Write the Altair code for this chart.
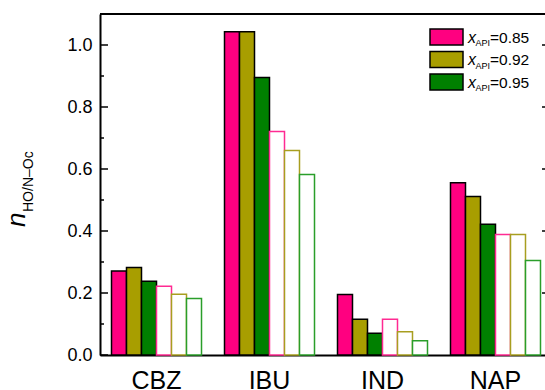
import altair as alt
import pandas as pd

# ---------------- data ----------------
apis = ["CBZ", "IBU", "IND", "NAP"]
series_keys = ["s85", "s92", "s95", "o85", "o92", "o95"]

filled_085 = [0.271, 1.043, 0.195, 0.556]
filled_092 = [0.282, 1.043, 0.115, 0.511]
filled_095 = [0.238, 0.895, 0.070, 0.422]
open_085 = [0.222, 0.721, 0.115, 0.389]
open_092 = [0.196, 0.660, 0.075, 0.389]
open_095 = [0.182, 0.582, 0.046, 0.305]

fill_colors = ["#FF0080", "#A89E00", "#008000", "#FFFFFF", "#FFFFFF", "#FFFFFF"]
stroke_colors = ["#000000", "#000000", "#000000", "#FF2A92", "#A89E20", "#2A9E2A"]

legend_labels = ["=0.85", "=0.92", "=0.95"]
legend_colors = ["#FF0080", "#A89E00", "#008000"]

y_ticks = [0.0, 0.2, 0.4, 0.6, 0.8, 1.0]
y_minor = [0.1, 0.3, 0.5, 0.7, 0.9]

series_values = [filled_085, filled_092, filled_095, open_085, open_092, open_095]
rows = []
for key, vals in zip(series_keys, series_values):
    for api, v in zip(apis, vals):
        rows.append({"api": api, "series": key, "value": v})
df = pd.DataFrame(rows)

FONT = "Liberation Sans"
W, H = 445, 341
XRANGE = 452

yscale = alt.Scale(domain=[0, 1.1], nice=False, zero=True)
yaxis = alt.Axis(
    title=None, values=y_ticks, format=".1f", ticks=False, labelPadding=8,
    labelFontSize=18, labelFont=FONT, labelColor="black", domainColor="black",
    domainWidth=2, grid=False,
)

bars = alt.Chart(df).mark_bar(strokeWidth=1.5).encode(
    x=alt.X(
        "api:N",
        sort=apis,
        scale=alt.Scale(domain=apis, range=[0, XRANGE], paddingInner=0.2035, paddingOuter=0.1018),
        axis=alt.Axis(
            title=None, ticks=False, labelAngle=0, labelFontSize=25, labelFont=FONT,
            labelColor="black", labelPadding=13, domainColor="black", domainWidth=2,
            grid=False,
        ),
    ),
    xOffset=alt.XOffset(
        "series:N", sort=series_keys,
        scale=alt.Scale(domain=series_keys, paddingInner=0, paddingOuter=0),
    ),
    y=alt.Y("value:Q", scale=yscale, axis=yaxis),
    fill=alt.Fill("series:N", scale=alt.Scale(domain=series_keys, range=fill_colors), legend=None),
    stroke=alt.Stroke("series:N", scale=alt.Scale(domain=series_keys, range=stroke_colors), legend=None),
)

one = pd.DataFrame({"a": [0]})

top_line = alt.Chart(one).mark_rule(color="black", strokeWidth=2).encode(
    x=alt.value(0), x2=alt.value(XRANGE), y=alt.value(0)
)

major_ticks = alt.Chart(pd.DataFrame({"v": y_ticks})).mark_rule(color="black", strokeWidth=1.5).encode(
    y=alt.Y("v:Q", scale=yscale, axis=yaxis), x=alt.value(0), x2=alt.value(8)
)
minor_ticks = alt.Chart(pd.DataFrame({"v": y_minor})).mark_rule(color="black", strokeWidth=1.5).encode(
    y=alt.Y("v:Q", scale=yscale, axis=yaxis), x=alt.value(0), x2=alt.value(4)
)
right_ticks = alt.Chart(pd.DataFrame({"v": y_ticks[1:]})).mark_rule(color="black", strokeWidth=1.5).encode(
    y=alt.Y("v:Q", scale=yscale, axis=yaxis), x=alt.value(442), x2=alt.value(445)
)

ytitle_n = alt.Chart(one).mark_text(
    text="n", font=FONT, fontSize=26, fontStyle="italic", angle=270,
    align="left", baseline="alphabetic", color="black",
).encode(x=alt.value(-75), y=alt.value(213))
ytitle_sub = alt.Chart(one).mark_text(
    text="HO/N–Oc", font=FONT, fontSize=14, angle=270,
    align="left", baseline="alphabetic", color="black",
).encode(x=alt.value(-67), y=alt.value(198))

layers = [bars, top_line, major_ticks, minor_ticks, right_ticks, ytitle_n, ytitle_sub]

row_centers = [23, 45.5, 68]
for i, (lab, col) in enumerate(zip(legend_labels, legend_colors)):
    cy = row_centers[i]
    ldf = pd.DataFrame({"label": [lab]})
    layers.append(
        alt.Chart(ldf).mark_rect(fill=col, stroke="black", strokeWidth=1.5).encode(
            x=alt.value(330), x2=alt.value(363), y=alt.value(cy - 8), y2=alt.value(cy + 8)
        )
    )
    layers.append(
        alt.Chart(ldf).mark_text(
            text="x", font=FONT, fontSize=16, fontStyle="italic", align="left",
            baseline="alphabetic", color="black",
        ).encode(x=alt.value(368), y=alt.value(cy + 5.5))
    )
    layers.append(
        alt.Chart(ldf).mark_text(
            text="API", font=FONT, fontSize=9, align="left",
            baseline="alphabetic", color="black",
        ).encode(x=alt.value(375.5), y=alt.value(cy + 9))
    )
    layers.append(
        alt.Chart(ldf).mark_text(
            font=FONT, fontSize=15.5, align="left", baseline="alphabetic", color="black",
        ).encode(text="label:N", x=alt.value(390), y=alt.value(cy + 5.5))
    )

chart = alt.layer(*layers).properties(
    width=W,
    height=H,
    autosize="none",
    padding={"left": 100, "top": 14, "right": 0, "bottom": 35},
    background="white",
).configure_view(stroke=None)

chart.save("out.html", embed_options={"renderer": "svg", "actions": False})
